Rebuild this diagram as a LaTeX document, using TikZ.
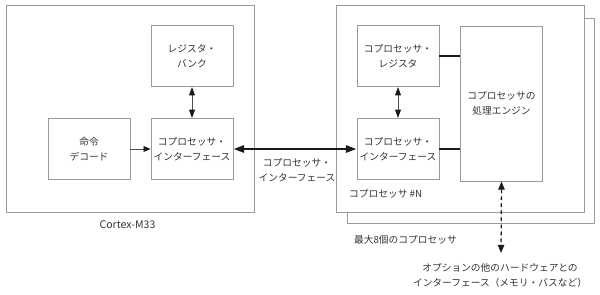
\documentclass[tikz,border=0pt]{standalone}
\usepackage{fontspec}
\setmainfont{Noto Sans CJK JP}
\setsansfont{Noto Sans CJK JP}
\usetikzlibrary{arrows.meta, positioning}

\begin{document}
\begin{tikzpicture}[
    x=0.03cm, y=-0.03cm,
    every node/.style={font=\sffamily\fontsize{8.3}{12.8}\selectfont, text=txtcolor},
]

% ---------------------------------------------------------------- colours
\definecolor{linecolor}{HTML}{9A9A9A}   % box outlines
\definecolor{txtcolor}{HTML}{333333}    % all labels
\definecolor{buscolor}{HTML}{1A1A1A}    % the thick bus lines

\tikzset{
    block/.style={rectangle, draw=linecolor, line width=0.8pt, fill=white,
                  minimum width=2.46cm, minimum height=1.84cm,
                  align=center, inner sep=0pt},
    frame/.style={draw=linecolor, line width=0.8pt, fill=white},
    thinlink/.style={{Triangle[length=7pt, width=5pt, color=buscolor]}-{Triangle[length=7pt, width=5pt, color=buscolor]},
                     line width=0.6pt, draw=linecolor!50!black},
    buslink/.style={line width=2pt, draw=buscolor},
    caption/.style={anchor=west},
}

\useasboundingbox (0,0) rectangle (600,294);

% ================================================================
% GEOMETRY (pixels, y downwards)
%   Cortex-M33 frame     x = 6 .. 254,   y = 5 .. 212
%   coprocessor frame    x = 336 .. 584, y = 5 .. 212 (copy behind +11)
%   upper row            y = 56
%   lower row            y = 149
% ================================================================

% ---------------------------------------------------------------- frames
\draw[frame] (6,5) rectangle (254,212);
\node[font=\sffamily\fontsize{9}{11}\selectfont] at (127.5,225) {Cortex-M33};

\draw[frame] (347,18) rectangle (594,223);
\draw[frame] (336,5) rectangle (584,212);
\node[caption] at (345,194) {コプロセッサ \#N};
\node[caption] at (350,240) {最大8個のコプロセッサ};

% ---------------------------------------------------------------- Cortex-M33
\node[block] (bank)   at (192,56)  {レジスタ・\\バンク};
\node[block] (decode) at (89,149)  {命令\\デコード};
\node[block] (cpif)   at (192,149) {コプロセッサ・\\インターフェース};

\draw[thinlink] (bank) -- (cpif);
\draw[-{Triangle[length=6pt, width=5pt, color=buscolor]}, line width=0.6pt,
      draw=linecolor!50!black]
    (decode) -- (cpif);

% ---------------------------------------------------------------- coprocessor
\node[block] (creg) at (398,56)  {コプロセッサ・\\レジスタ};
\node[block] (coif) at (398,149) {コプロセッサ・\\インターフェース};
\node[block, minimum height=4.65cm] (engine) at (501.5,103.5)
    {コプロセッサの\\処理エンジン};

\draw[thinlink] (creg) -- (coif);
\draw[buslink] (creg.east) -- (creg.east -| engine.west);
\draw[buslink] (coif.east) -- (coif.east -| engine.west);

% ---------------------------------------------------------------- the bus
\draw[buslink, {Triangle[length=9pt, width=6pt]}-{Triangle[length=9pt, width=6pt]}]
    (cpif.east) -- (coif.west);
\node[align=center] (buslabel) at (297,170) {コプロセッサ・\\インターフェース};

% ---------------------------------------------------------------- optional hardware
\coordinate (hwend) at (501,253);
\draw[{Triangle[length=7pt, width=5.5pt]}-{Triangle[length=7pt, width=5.5pt]},
      dashed, line width=1.1pt, draw=buscolor, fill=buscolor]
    (engine.south) -- (hwend);
\node[align=center, anchor=north] (hwlabel) at (500,259)
    {オプションの他のハードウェアとの\\インターフェース（メモリ・バスなど）};

\end{tikzpicture}
\end{document}
